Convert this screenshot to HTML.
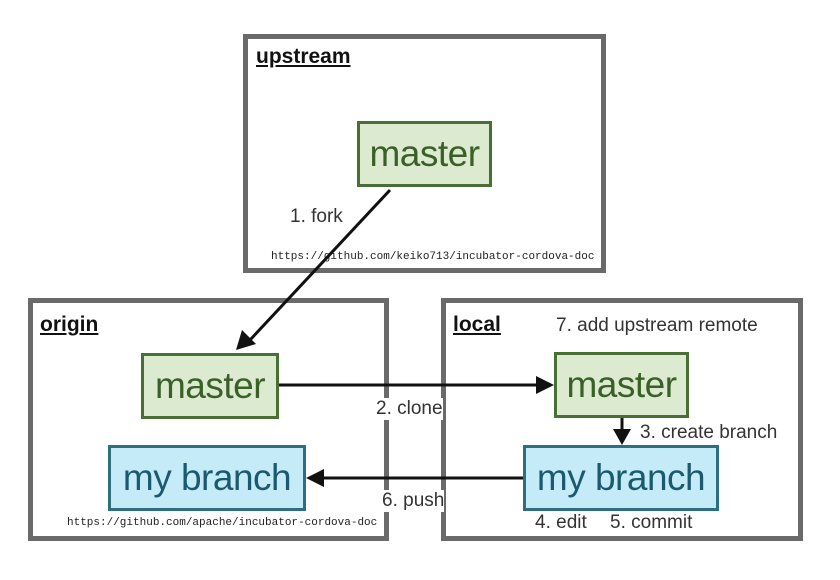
<!DOCTYPE html>
<html><head><meta charset="utf-8"><style>
body{margin:0;width:840px;height:580px;background:#fff;position:relative;overflow:hidden;font-family:"Liberation Sans",sans-serif}
.box{position:absolute;border:5px solid #6a6a6a;box-sizing:border-box;background:#fff}
.t{position:absolute;font-weight:bold;font-size:21px;text-decoration:underline;color:#111}
.n{position:absolute;box-sizing:border-box;display:flex;align-items:center;justify-content:center;font-size:37px;letter-spacing:-0.5px}
.g{background:#dcebd0;border:3px solid #4a6f35;color:#3a5f28}
.b{background:#c6ebf8;border:3px solid #2b6f80;color:#1b5a6e}
.l{position:absolute;font-size:19px;color:#333;background:#fff;white-space:nowrap}
.u{position:absolute;font-family:"Liberation Mono",monospace;font-size:11px;color:#222;white-space:nowrap}
</style></head><body>
<div class="box" style="left:243px;top:34px;width:363px;height:239px"></div>
<div class="box" style="left:28px;top:298px;width:361px;height:243px"></div>
<div class="box" style="left:441px;top:298px;width:362px;height:243px"></div>
<div class="t" style="left:256px;top:45px">upstream</div>
<div class="t" style="left:40px;top:313px">origin</div>
<div class="t" style="left:453px;top:313px">local</div>
<div class="u" style="left:271px;top:251px">https://github.com/keiko713/incubator-cordova-doc</div>
<div class="u" style="left:67px;top:517px">https://github.com/apache/incubator-cordova-doc</div>
<svg width="840" height="580" style="position:absolute;left:0;top:0">
<g stroke="#111" stroke-width="3" fill="none">
<line x1="390" y1="190" x2="250" y2="340"/>
<line x1="278" y1="385" x2="540" y2="385"/>
<line x1="523" y1="478" x2="320" y2="478"/>
<line x1="622" y1="418" x2="622" y2="430"/>
</g>
<path d="M236,350L242,330L256,344z" fill="#111"/>
<path d="M554,385L536,376L536,394z" fill="#111"/>
<path d="M306,478L324,469L324,487z" fill="#111"/>
<path d="M622,445L613,429L631,429z" fill="#111"/>
</svg>
<div class="n g" style="left:357px;top:121px;width:135px;height:66px">master</div>
<div class="n g" style="left:141px;top:353px;width:138px;height:66px">master</div>
<div class="n g" style="left:554px;top:352px;width:135px;height:66px">master</div>
<div class="n b" style="left:108px;top:445px;width:198px;height:66px">my branch</div>
<div class="n b" style="left:523px;top:445px;width:196px;height:66px">my branch</div>
<div class="l" style="left:290px;top:206px;background:none">1. fork</div>
<div class="l" style="left:376px;top:398px">2. clone</div>
<div class="l" style="left:640px;top:422px">3. create branch</div>
<div class="l" style="left:535px;top:512px">4. edit</div>
<div class="l" style="left:610px;top:512px">5. commit</div>
<div class="l" style="left:382px;top:490px">6. push</div>
<div class="l" style="left:556px;top:315px">7. add upstream remote</div>
</body></html>
